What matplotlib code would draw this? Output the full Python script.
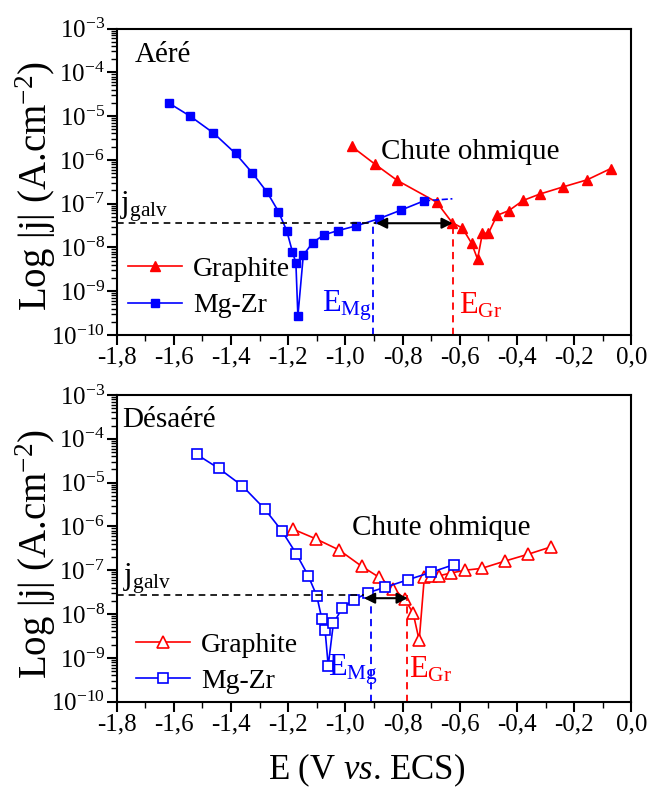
import matplotlib
matplotlib.use("Agg")
import matplotlib.pyplot as plt
from matplotlib.ticker import LogLocator, MultipleLocator, FuncFormatter, NullFormatter, LogFormatterSciNotation

plt.rcParams['font.family'] = ['Liberation Serif', 'DejaVu Serif']
plt.rcParams['mathtext.fontset'] = 'custom'
plt.rcParams['mathtext.rm'] = 'Liberation Serif'
plt.rcParams['mathtext.it'] = 'Liberation Serif:italic'

# ---- Data: top panel (Aéré) ----
top_mg_E = [-1.618, -1.542, -1.461, -1.384, -1.325, -1.273, -1.234, -1.205, -1.185, -1.173,
            -1.166, -1.147, -1.114, -1.075, -1.025, -0.963, -0.884, -0.806, -0.725]
top_mg_j = [2.0e-5, 9.9e-6, 4.1e-6, 1.4e-6, 5.0e-7, 1.8e-7, 6.6e-8, 2.4e-8, 7.9e-9, 4.4e-9,
            2.7e-10, 6.7e-9, 1.29e-8, 1.94e-8, 2.43e-8, 3.1e-8, 4.5e-8, 7.1e-8, 1.16e-7]
top_mg_ext_E = [-0.725, -0.626]
top_mg_ext_j = [1.16e-7, 1.29e-7]
top_gr_E = [-0.978, -0.897, -0.819, -0.681, -0.627, -0.591, -0.559, -0.538, -0.521, -0.500,
            -0.470, -0.429, -0.379, -0.321, -0.240, -0.155, -0.073]
top_gr_j = [2.03e-6, 8.0e-7, 3.4e-7, 1.08e-7, 3.7e-8, 2.76e-8, 1.25e-8, 5.4e-9, 2.1e-8, 2.1e-8,
            5.4e-8, 6.9e-8, 1.18e-7, 1.65e-7, 2.4e-7, 3.5e-7, 6.3e-7]
top_jgalv = 3.57e-8
top_EMg = -0.905
top_EGr = -0.623
top_arrow = [-0.893, -0.625]

# ---- Data: bottom panel (Désaéré) ----
bot_mg_E = [-1.520, -1.442, -1.361, -1.282, -1.222, -1.172, -1.130, -1.100, -1.082, -1.071,
            -1.060, -1.042, -1.011, -0.971, -0.921, -0.862, -0.781, -0.701, -0.621]
bot_mg_j = [4.4e-5, 2.1e-5, 8.5e-6, 2.5e-6, 7.9e-7, 2.4e-7, 7.5e-8, 2.6e-8, 7.6e-9, 4.3e-9,
            6.6e-10, 6.1e-9, 1.37e-8, 2.1e-8, 3.06e-8, 4.07e-8, 6.07e-8, 8.95e-8, 1.34e-7]
bot_gr_E = [-1.182, -1.103, -1.022, -0.943, -0.882, -0.832, -0.792, -0.763, -0.742, -0.724,
            -0.702, -0.672, -0.632, -0.582, -0.524, -0.442, -0.363, -0.282]
bot_gr_j = [8.6e-7, 5.2e-7, 2.9e-7, 1.23e-7, 6.9e-8, 3.8e-8, 2.17e-8, 1.04e-8, 2.5e-9, 7.0e-8,
            7.4e-8, 7.5e-8, 8.6e-8, 1.0e-7, 1.1e-7, 1.62e-7, 2.3e-7, 3.4e-7]
bot_jgalv = 2.72e-8
bot_EMg = -0.910
bot_EGr = -0.786
bot_arrow = [-0.935, -0.782]
bot_arrow_j = 2.3e-8

xticks = [-1.8, -1.6, -1.4, -1.2, -1.0, -0.8, -0.6, -0.4, -0.2, 0.0]

fig = plt.figure(figsize=(6.48, 8.01), dpi=100)
ax1 = fig.add_axes([0.1798, 0.5818, 0.7947, 0.3826])
ax2 = fig.add_axes([0.1798, 0.124, 0.7947, 0.3829])

BLUE = '#0000ff'
RED = '#ff0000'
FS_TICK = 18
FS_TXT = 21
FS_LEG = 20
FS_E = 22


def style_axes(ax):
    ax.set_yscale('log')
    ax.set_xlim(-1.8, 0.0)
    ax.set_ylim(1e-10, 1e-3)
    ax.set_xticks(xticks)
    ax.xaxis.set_minor_locator(MultipleLocator(0.1))
    ax.xaxis.set_major_formatter(FuncFormatter(lambda v, p: ('%.1f' % v).replace('.', ',').replace('-0,0', '0,0')))
    ax.yaxis.set_major_locator(LogLocator(base=10, numticks=20))
    ax.yaxis.set_minor_locator(LogLocator(base=10, subs=[2, 3, 4, 5, 6, 7, 8, 9], numticks=20))
    ax.yaxis.set_minor_formatter(NullFormatter())
    ax.yaxis.set_major_formatter(LogFormatterSciNotation())
    for s in ax.spines.values():
        s.set_linewidth(1.5)
    ax.tick_params(axis='both', which='major', direction='out', length=7, width=1.5,
                   labelsize=FS_TICK, pad=1.5)
    ax.tick_params(axis='both', which='minor', direction='out', length=4, width=1.0)
    ax.tick_params(top=False, right=False, which='both')


for ax in (ax1, ax2):
    style_axes(ax)

# ---- top panel ----
ax1.plot(top_gr_E, top_gr_j, '-', color=RED, lw=1.2, marker='^', ms=7.5, mfc=RED, mec=RED, label='Graphite')
ax1.plot(top_mg_E, top_mg_j, '-', color=BLUE, lw=1.2, marker='s', ms=6, mfc=BLUE, mec=BLUE, label='Mg-Zr')
ax1.plot(top_mg_ext_E, top_mg_ext_j, '--', color=BLUE, lw=1.2)
ax1.plot([-1.8, top_arrow[0]], [top_jgalv, top_jgalv], '--', color='k', lw=1.2, dashes=(4, 3))
ax1.plot([top_EMg, top_EMg], [1e-10, top_jgalv], '--', color=BLUE, lw=1.3, dashes=(4, 3))
ax1.plot([top_EGr, top_EGr], [1e-10, top_jgalv], '--', color=RED, lw=1.3, dashes=(4, 3))
ax1.annotate('', xy=(top_arrow[1], top_jgalv), xytext=(top_arrow[0], top_jgalv),
             arrowprops=dict(arrowstyle='<|-|>', color='k', lw=1.5, mutation_scale=16,
                             shrinkA=0, shrinkB=0))
ax1.text(0.036, 0.913, 'Aéré', transform=ax1.transAxes, fontsize=FS_TXT, ha='left', va='center')
ax1.text(0.686, 0.597, 'Chute ohmique', transform=ax1.transAxes, fontsize=FS_TXT, ha='center', va='center')
ax1.text(0.006, 0.42, r'j$_\mathrm{galv}$', transform=ax1.transAxes, fontsize=FS_E, ha='left', va='center')
ax1.text(top_EMg - 0.003, 0.095, r'E$_\mathrm{Mg}$', transform=ax1.get_xaxis_transform(),
         fontsize=FS_E, ha='right', va='center', color=BLUE)
ax1.text(top_EGr + 0.02, 0.095, r'E$_\mathrm{Gr}$', transform=ax1.get_xaxis_transform(),
         fontsize=FS_E, ha='left', va='center', color=RED)
ax1.legend(loc='lower left', bbox_to_anchor=(-0.01, 0.0), frameon=False, fontsize=FS_LEG,
           handlelength=1.95, handletextpad=0.4, labelspacing=0.4, borderaxespad=0.2)

# ---- bottom panel ----
ax2.plot(bot_gr_E, bot_gr_j, '-', color=RED, lw=1.2, marker='^', ms=8, mfc='white', mec=RED, mew=1.2, label='Graphite')
ax2.plot(bot_mg_E, bot_mg_j, '-', color=BLUE, lw=1.2, marker='s', ms=6.5, mfc='white', mec=BLUE, mew=1.2, label='Mg-Zr')
ax2.plot([-1.8, bot_arrow[0]], [bot_jgalv, bot_jgalv], '--', color='k', lw=1.2, dashes=(4, 3))
ax2.plot([bot_EMg, bot_EMg], [1e-10, bot_jgalv], '--', color=BLUE, lw=1.3, dashes=(4, 3))
ax2.plot([bot_EGr, bot_EGr], [1e-10, bot_jgalv], '--', color=RED, lw=1.3, dashes=(4, 3))
ax2.annotate('', xy=(bot_arrow[1], bot_arrow_j), xytext=(bot_arrow[0], bot_arrow_j),
             arrowprops=dict(arrowstyle='<|-|>', color='k', lw=1.5, mutation_scale=16,
                             shrinkA=0, shrinkB=0))
ax2.text(0.011, 0.918, 'Désaéré', transform=ax2.transAxes, fontsize=FS_TXT, ha='left', va='center')
ax2.text(0.63, 0.566, 'Chute ohmique', transform=ax2.transAxes, fontsize=FS_TXT, ha='center', va='center')
ax2.text(0.012, 0.40, r'j$_\mathrm{galv}$', transform=ax2.transAxes, fontsize=FS_E, ha='left', va='center')
ax2.text(bot_EMg + 0.025, 0.105, r'E$_\mathrm{Mg}$', transform=ax2.get_xaxis_transform(),
         fontsize=FS_E, ha='right', va='center', color=BLUE)
ax2.text(bot_EGr + 0.01, 0.105, r'E$_\mathrm{Gr}$', transform=ax2.get_xaxis_transform(),
         fontsize=FS_E, ha='left', va='center', color=RED)
ax2.legend(loc='lower left', bbox_to_anchor=(0.005, -0.03), frameon=False, fontsize=FS_LEG,
           handlelength=1.95, handletextpad=0.4, labelspacing=0.4, borderaxespad=0.2)

# axis labels
ylab = r'Log |j| (A.cm$^{\mathregular{-2}}$)'
fig.text(0.055, 0.768, ylab, rotation=90, fontsize=28, ha='center', va='center')
fig.text(0.055, 0.308, ylab, rotation=90, fontsize=28, ha='center', va='center')
fig.text(0.566, 0.038, r'E (V $\mathit{vs}$. ECS)', fontsize=25, ha='center', va='center')

fig.savefig('out.png', dpi=100)
